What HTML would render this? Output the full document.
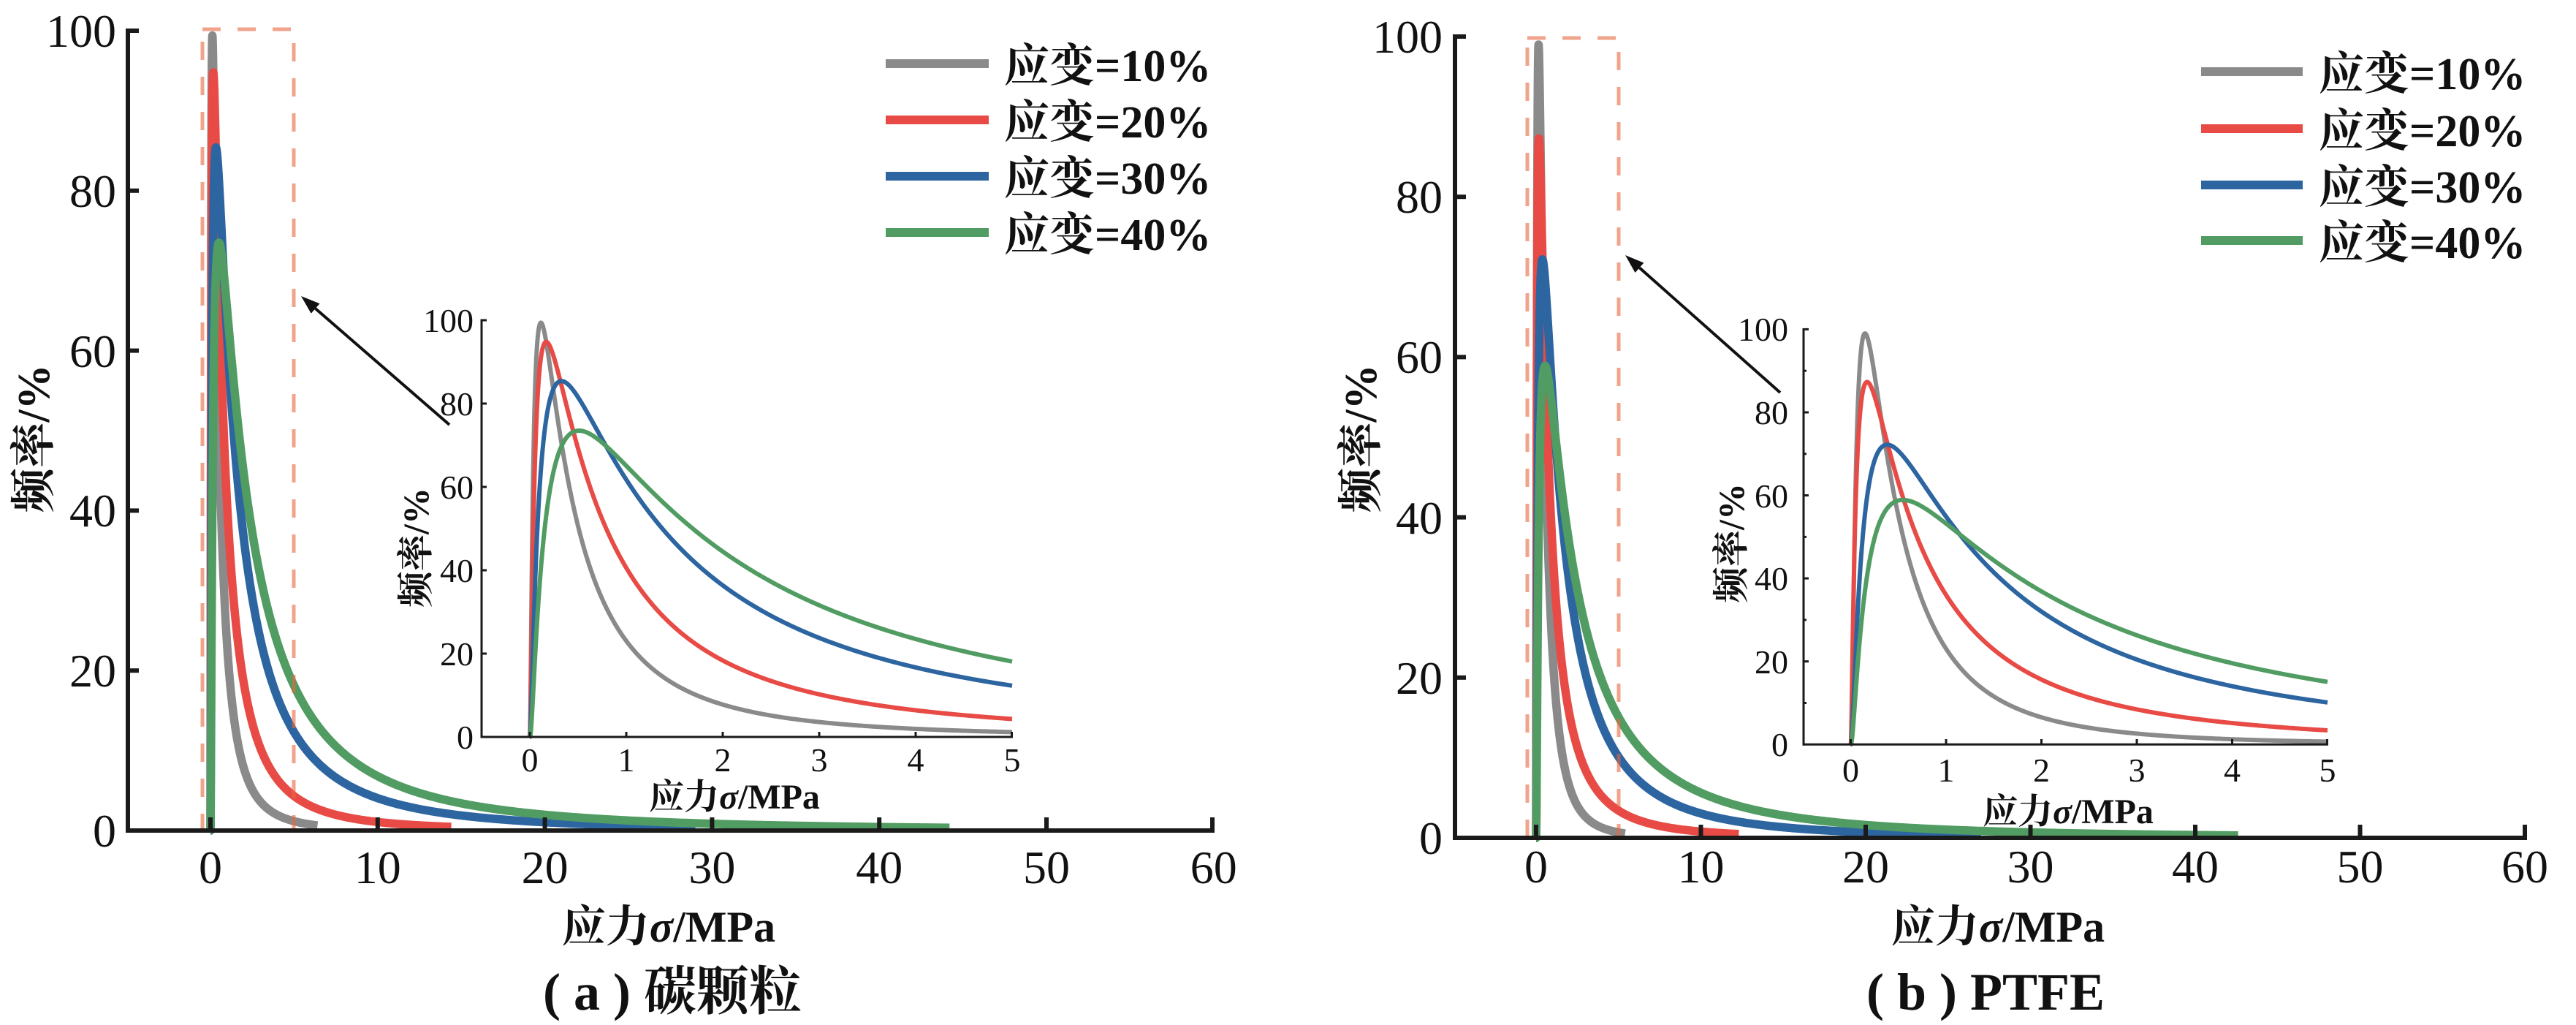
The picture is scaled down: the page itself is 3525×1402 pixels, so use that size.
<!DOCTYPE html>
<html>
<head>
<meta charset="utf-8">
<style>
html,body{margin:0;padding:0;background:#fff;}
svg{display:block;}
text{font-family:"Liberation Serif","Noto Serif CJK SC",serif;fill:#111;}
.tk{font-size:64px;}
.itk{font-size:46px;}
.ttl{font-size:60px;font-weight:bold;}
.ittl{font-size:48px;font-weight:bold;}
.lg{font-size:62px;font-weight:bold;}
.cap{font-size:72px;font-weight:bold;}
</style>
</head>
<body>
<svg xmlns="http://www.w3.org/2000/svg" width="3525" height="1402" viewBox="0 0 3525 1402">
<rect x="0" y="0" width="3525" height="1402" fill="#fff"/>
<g id="mainCurves"></g>

<!-- dashed boxes -->
<g fill="none" stroke="#e8683f" stroke-opacity="0.6" stroke-width="5" stroke-dasharray="25 23">
  <rect x="277" y="40" width="125" height="1096"/>
  <rect x="2090" y="52" width="125" height="1094"/>
</g>

<!-- LEFT main axes -->
<g stroke="#1a1a1a" stroke-width="6" fill="none">
  <line x1="175" y1="39" x2="175" y2="1139"/>
  <line x1="172" y1="1136" x2="1662" y2="1136"/>
  <line x1="288" y1="1136" x2="288" y2="1118"/>
  <line x1="516.8" y1="1136" x2="516.8" y2="1118"/>
  <line x1="745.6" y1="1136" x2="745.6" y2="1118"/>
  <line x1="974.4" y1="1136" x2="974.4" y2="1118"/>
  <line x1="1203.2" y1="1136" x2="1203.2" y2="1118"/>
  <line x1="1432" y1="1136" x2="1432" y2="1118"/>
  <line x1="1659" y1="1136" x2="1659" y2="1118"/>
  <line x1="175" y1="917.2" x2="190" y2="917.2"/>
  <line x1="175" y1="698.4" x2="190" y2="698.4"/>
  <line x1="175" y1="479.6" x2="190" y2="479.6"/>
  <line x1="175" y1="260.8" x2="190" y2="260.8"/>
  <line x1="172" y1="42" x2="190" y2="42"/>
</g>
<g class="tk" text-anchor="end">
  <text x="159" y="1158">0</text>
  <text x="159" y="939">20</text>
  <text x="159" y="720">40</text>
  <text x="159" y="502">60</text>
  <text x="159" y="283">80</text>
  <text x="159" y="64">100</text>
</g>
<g class="tk" text-anchor="middle">
  <text x="288" y="1208">0</text>
  <text x="516.8" y="1208">10</text>
  <text x="745.6" y="1208">20</text>
  <text x="974.4" y="1208">30</text>
  <text x="1203.2" y="1208">40</text>
  <text x="1432" y="1208">50</text>
  <text x="1660.8" y="1208">60</text>
</g>
<text class="ttl" x="915" y="1288" text-anchor="middle">应力<tspan font-style="italic">σ</tspan>/MPa</text>
<text class="cap" x="920" y="1381" text-anchor="middle">( a ) 碳颗粒</text>
<text class="ttl" style="font-size:62px" transform="translate(45,600) rotate(-90)" x="0" y="22" text-anchor="middle">频率/%</text>

<!-- LEFT legend -->
<g stroke-width="12">
  <line x1="1212" y1="87" x2="1353" y2="87" stroke="#8a8a8a"/>
  <line x1="1212" y1="164" x2="1353" y2="164" stroke="#e84b45"/>
  <line x1="1212" y1="241" x2="1353" y2="241" stroke="#2d65a1"/>
  <line x1="1212" y1="318" x2="1353" y2="318" stroke="#519c62"/>
</g>
<g class="lg">
  <text x="1374" y="111">应变=10%</text>
  <text x="1374" y="188">应变=20%</text>
  <text x="1374" y="265">应变=30%</text>
  <text x="1374" y="342">应变=40%</text>
</g>

<!-- RIGHT main axes -->
<g stroke="#1a1a1a" stroke-width="6" fill="none">
  <line x1="1991" y1="47" x2="1991" y2="1149"/>
  <line x1="1988" y1="1146" x2="3458" y2="1146"/>
  <line x1="2102" y1="1146" x2="2102" y2="1128"/>
  <line x1="2327.5" y1="1146" x2="2327.5" y2="1128"/>
  <line x1="2553" y1="1146" x2="2553" y2="1128"/>
  <line x1="2778.5" y1="1146" x2="2778.5" y2="1128"/>
  <line x1="3004" y1="1146" x2="3004" y2="1128"/>
  <line x1="3229.5" y1="1146" x2="3229.5" y2="1128"/>
  <line x1="3455" y1="1146" x2="3455" y2="1128"/>
  <line x1="1991" y1="926.8" x2="2006" y2="926.8"/>
  <line x1="1991" y1="707.6" x2="2006" y2="707.6"/>
  <line x1="1991" y1="488.4" x2="2006" y2="488.4"/>
  <line x1="1991" y1="269.2" x2="2006" y2="269.2"/>
  <line x1="1988" y1="50" x2="2006" y2="50"/>
</g>
<g class="tk" text-anchor="end">
  <text x="1974" y="1168">0</text>
  <text x="1974" y="949">20</text>
  <text x="1974" y="730">40</text>
  <text x="1974" y="510">60</text>
  <text x="1974" y="291">80</text>
  <text x="1974" y="72">100</text>
</g>
<g class="tk" text-anchor="middle">
  <text x="2102" y="1207">0</text>
  <text x="2327.5" y="1207">10</text>
  <text x="2553" y="1207">20</text>
  <text x="2778.5" y="1207">30</text>
  <text x="3004" y="1207">40</text>
  <text x="3229.5" y="1207">50</text>
  <text x="3455" y="1207">60</text>
</g>
<text class="ttl" x="2734" y="1288" text-anchor="middle">应力<tspan font-style="italic">σ</tspan>/MPa</text>
<text class="cap" x="2717" y="1381" text-anchor="middle">( b ) PTFE</text>
<text class="ttl" style="font-size:62px" transform="translate(1861,600) rotate(-90)" x="0" y="22" text-anchor="middle">频率/%</text>

<!-- RIGHT legend -->
<g stroke-width="12">
  <line x1="3012" y1="98" x2="3151" y2="98" stroke="#8a8a8a"/>
  <line x1="3012" y1="176" x2="3151" y2="176" stroke="#e84b45"/>
  <line x1="3012" y1="253" x2="3151" y2="253" stroke="#2d65a1"/>
  <line x1="3012" y1="329" x2="3151" y2="329" stroke="#519c62"/>
</g>
<g class="lg">
  <text x="3173" y="122">应变=10%</text>
  <text x="3173" y="200">应变=20%</text>
  <text x="3173" y="277">应变=30%</text>
  <text x="3173" y="353">应变=40%</text>
</g>

<!-- arrows -->
<g stroke="#111" stroke-width="4">
  <line x1="615" y1="581" x2="431.6" y2="422"/>
  <line x1="2436" y1="537" x2="2243.5" y2="366.3"/>
</g>
<g fill="#111">
  <polygon points="412,405 437.5,415.2 425.7,428.8"/>
  <polygon points="2224,349 2249.4,359.5 2237.5,373"/>
</g>

<g id="insetCurves"></g>

<!-- LEFT inset axes -->
<g stroke="#1a1a1a" stroke-width="3" fill="none">
  <line x1="659" y1="437" x2="659" y2="1009.5"/>
  <line x1="657.5" y1="1008" x2="1386" y2="1008"/>
  <line x1="725" y1="1008" x2="725" y2="1001"/>
  <line x1="857" y1="1008" x2="857" y2="1001"/>
  <line x1="989" y1="1008" x2="989" y2="1001"/>
  <line x1="1121" y1="1008" x2="1121" y2="1001"/>
  <line x1="1253" y1="1008" x2="1253" y2="1001"/>
  <line x1="1384.5" y1="1008" x2="1384.5" y2="1001"/>
  <line x1="659" y1="894" x2="666" y2="894"/>
  <line x1="659" y1="780" x2="666" y2="780"/>
  <line x1="659" y1="666" x2="666" y2="666"/>
  <line x1="659" y1="552" x2="666" y2="552"/>
  <line x1="657.5" y1="438" x2="666" y2="438"/>
</g>
<g class="itk" text-anchor="end">
  <text x="648" y="1024">0</text>
  <text x="648" y="910">20</text>
  <text x="648" y="796">40</text>
  <text x="648" y="682">60</text>
  <text x="648" y="568">80</text>
  <text x="648" y="454">100</text>
</g>
<g class="itk" text-anchor="middle">
  <text x="725" y="1055">0</text>
  <text x="857" y="1055">1</text>
  <text x="989" y="1055">2</text>
  <text x="1121" y="1055">3</text>
  <text x="1253" y="1055">4</text>
  <text x="1385" y="1055">5</text>
</g>
<text class="ittl" x="1005" y="1106" text-anchor="middle">应力<tspan font-style="italic">σ</tspan>/MPa</text>
<text class="ittl" style="font-size:50px" transform="translate(568,749) rotate(-90)" x="0" y="18" text-anchor="middle">频率/%</text>

<!-- RIGHT inset axes -->
<g stroke="#1a1a1a" stroke-width="3" fill="none">
  <line x1="2468" y1="449" x2="2468" y2="1019.8"/>
  <line x1="2466.5" y1="1018.3" x2="3186" y2="1018.3"/>
  <line x1="2532.5" y1="1018.3" x2="2532.5" y2="1011"/>
  <line x1="2663" y1="1018.3" x2="2663" y2="1011"/>
  <line x1="2793.5" y1="1018.3" x2="2793.5" y2="1011"/>
  <line x1="2924" y1="1018.3" x2="2924" y2="1011"/>
  <line x1="3054.5" y1="1018.3" x2="3054.5" y2="1011"/>
  <line x1="3184.5" y1="1018.3" x2="3184.5" y2="1011"/>
  <line x1="2468" y1="904.7" x2="2475" y2="904.7"/>
  <line x1="2468" y1="791.1" x2="2475" y2="791.1"/>
  <line x1="2468" y1="677.6" x2="2475" y2="677.6"/>
  <line x1="2468" y1="564" x2="2475" y2="564"/>
  <line x1="2466.5" y1="450.4" x2="2475" y2="450.4"/>
  <line x1="2468" y1="961.5" x2="2472" y2="961.5"/>
  <line x1="2468" y1="847.9" x2="2472" y2="847.9"/>
  <line x1="2468" y1="734.4" x2="2472" y2="734.4"/>
  <line x1="2468" y1="620.8" x2="2472" y2="620.8"/>
  <line x1="2468" y1="507.2" x2="2472" y2="507.2"/>
</g>
<g class="itk" text-anchor="end">
  <text x="2447" y="1034">0</text>
  <text x="2447" y="921">20</text>
  <text x="2447" y="807">40</text>
  <text x="2447" y="694">60</text>
  <text x="2447" y="580">80</text>
  <text x="2447" y="466">100</text>
</g>
<g class="itk" text-anchor="middle">
  <text x="2532.5" y="1069">0</text>
  <text x="2663" y="1069">1</text>
  <text x="2793.5" y="1069">2</text>
  <text x="2924" y="1069">3</text>
  <text x="3054.5" y="1069">4</text>
  <text x="3185" y="1069">5</text>
</g>
<text class="ittl" x="2830" y="1126" text-anchor="middle">应力<tspan font-style="italic">σ</tspan>/MPa</text>
<text class="ittl" style="font-size:50px" transform="translate(2368,743) rotate(-90)" x="0" y="18" text-anchor="middle">频率/%</text>
</svg>

<script>
(function(){
  var NS="http://www.w3.org/2000/svg";
  var mainG=document.getElementById('mainCurves');
  var insG=document.getElementById('insetCurves');
  var COL=["#8a8a8a","#e84b45","#2d65a1","#519c62"];
  function f(x,c){ if(x<=0) return 0; var L=Math.log(x/c.m); return c.P*Math.exp(-L*L/c.k); }
  function mk(g,c,xmax,ax,color,w){
    var N=700, d="";
    for(var i=0;i<=N;i++){
      var t=i/N, x=xmax*t*t*t;
      var px=ax.x0+ax.sx*x, py=ax.y0-ax.sy*f(x,c);
      d+=(i?"L":"M")+px.toFixed(2)+" "+py.toFixed(2);
    }
    var p=document.createElementNS(NS,"path");
    p.setAttribute("d",d); p.setAttribute("fill","none");
    p.setAttribute("stroke",color); p.setAttribute("stroke-width",w);
    p.setAttribute("stroke-linejoin","round"); p.setAttribute("stroke-linecap","butt");
    g.appendChild(p);
  }
  var L=[{m:0.115,P:99.4,k:3.2,e:6.4},{m:0.17,P:94.8,k:3.7,e:14.4},{m:0.328,P:85.4,k:3.83,e:29},{m:0.51,P:73.5,k:3.72,e:44.2}];
  var R=[{m:0.15,P:99.0,k:2.47,e:5.4},{m:0.172,P:87.3,k:3.5,e:12.3},{m:0.383,P:72.2,k:3.36,e:27},{m:0.546,P:58.9,k:3.6,e:42.6}];
  var aL={x0:288,sx:22.88,y0:1136,sy:10.94};
  var aR={x0:2102,sx:22.55,y0:1146,sy:10.96};
  var iL={x0:725,sx:132,y0:1008,sy:5.70};
  var iR={x0:2532.5,sx:130.5,y0:1018.3,sy:5.679};
  for(var j=0;j<4;j++){
    mk(mainG,L[j],L[j].e,aL,COL[j],11.5);
    mk(mainG,R[j],R[j].e,aR,COL[j],11.5);
  }
  for(var j=0;j<4;j++){
    mk(insG,L[j],5,iL,COL[j],6);
    mk(insG,R[j],5,iR,COL[j],6);
  }
})();
</script>
</body>
</html>
